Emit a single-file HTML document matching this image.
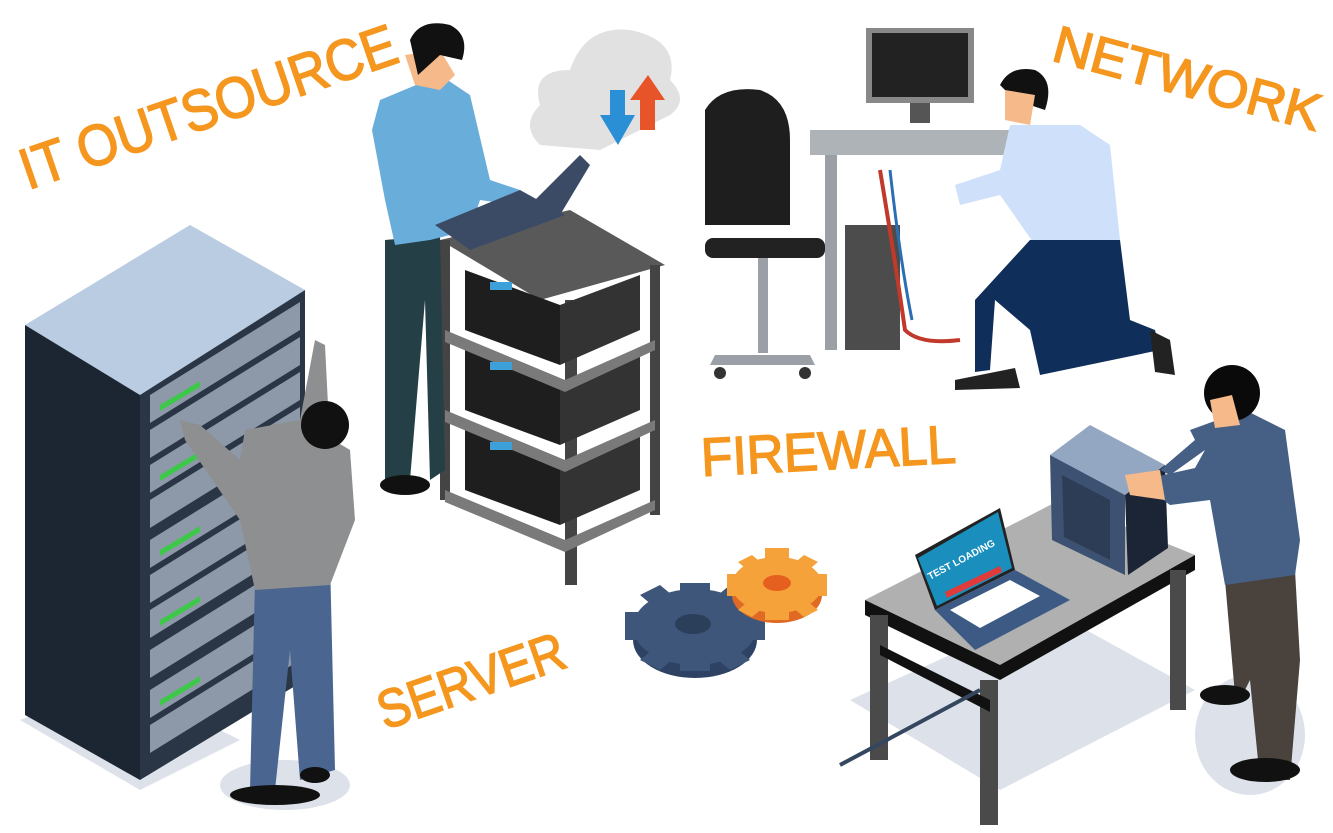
<!DOCTYPE html>
<html><head><meta charset="utf-8"><style>
html,body{margin:0;padding:0;background:#fff;}
svg{display:block}
.t{font-family:"Liberation Sans",sans-serif;fill:#f5961e;stroke:#f5961e;stroke-width:1.5}
</style></head><body>
<svg width="1333" height="833" viewBox="0 0 1333 833" xmlns="http://www.w3.org/2000/svg">
<!-- floor shadows -->
<polygon points="20,720 140,790 240,740 120,680" fill="#dde2ea"/>
<ellipse cx="285" cy="785" rx="65" ry="25" fill="#dde2ea"/>
<polygon points="850,700 1000,790 1195,690 1050,610" fill="#dde2ea"/>
<ellipse cx="1250" cy="735" rx="55" ry="60" fill="#dde2ea"/>

<!-- Texts -->
<g transform="translate(28,190) rotate(-19)"><text class="t" font-size="58" x="0" y="0" textLength="395" lengthAdjust="spacingAndGlyphs">IT OUTSOURCE</text></g>
<g transform="translate(1050,60) rotate(15)"><text class="t" font-size="52" x="0" y="0" textLength="275" lengthAdjust="spacingAndGlyphs">NETWORK</text></g>
<g transform="translate(702,476) rotate(-3)"><text class="t" font-size="54" x="0" y="0" textLength="255" lengthAdjust="spacingAndGlyphs">FIREWALL</text></g>
<g transform="translate(385,730) rotate(-19)"><text class="t" font-size="54" x="0" y="0" textLength="195" lengthAdjust="spacingAndGlyphs">SERVER</text></g>

<!-- Left server rack -->
<polygon points="25,325 190,225 305,290 140,395" fill="#b9cce2"/>
<polygon points="25,325 140,395 140,780 25,715" fill="#1c2633"/>
<polygon points="140,395 305,290 305,680 140,780" fill="#2a3646"/>
<g fill="#8d99a8">
<polygon points="150,395 300,302 300,330 150,423"/>
<polygon points="150,430 300,337 300,365 150,458"/>
<polygon points="150,465 300,372 300,400 150,493"/>
<polygon points="150,500 300,407 300,435 150,528"/>
<polygon points="150,540 300,447 300,475 150,568"/>
<polygon points="150,575 300,482 300,510 150,603"/>
<polygon points="150,610 300,517 300,545 150,638"/>
<polygon points="150,650 300,557 300,585 150,678"/>
<polygon points="150,690 300,597 300,625 150,718"/>
<polygon points="150,725 300,632 300,660 150,753"/>
</g>
<g fill="#3ec84a"><polygon points="160,405 200,381 200,387 160,411"/><polygon points="160,475 200,451 200,457 160,481"/><polygon points="160,550 200,526 200,532 160,556"/><polygon points="160,620 200,596 200,602 160,626"/><polygon points="160,700 200,676 200,682 160,706"/></g>

<!-- person at rack -->
<polygon points="255,580 330,560 335,770 300,780 290,650 275,790 250,790" fill="#4a6590"/>
<polygon points="245,430 300,420 350,450 355,520 330,585 255,590 240,520 185,440 180,420 200,425 240,460" fill="#8e8f90"/>
<polygon points="300,420 315,340 325,345 330,445" fill="#8e8f90"/>
<circle cx="325" cy="425" r="24" fill="#111"/>
<ellipse cx="275" cy="795" rx="45" ry="10" fill="#111"/>
<ellipse cx="315" cy="775" rx="15" ry="8" fill="#111"/>

<!-- central shelf -->
<polygon points="440,240 570,210 665,265 540,300" fill="#595959"/>
<rect x="440" y="240" width="10" height="260" fill="#444"/>
<rect x="565" y="300" width="12" height="285" fill="#444"/>
<rect x="650" y="265" width="10" height="250" fill="#444"/>
<g fill="#1e1e1e">
<polygon points="465,270 560,305 560,365 465,330"/><polygon points="560,305 640,275 640,330 560,365" fill="#333"/>
<polygon points="465,350 560,385 560,445 465,410"/><polygon points="560,385 640,355 640,410 560,445" fill="#333"/>
<polygon points="465,430 560,465 560,525 465,490"/><polygon points="560,465 640,435 640,490 560,525" fill="#333"/>
</g>
<polygon points="445,330 565,380 655,340 655,350 565,392 445,342" fill="#7a7a7a"/>
<polygon points="445,410 565,460 655,420 655,430 565,472 445,422" fill="#7a7a7a"/>
<polygon points="445,490 565,540 655,500 655,510 565,552 445,502" fill="#7a7a7a"/>
<rect x="490" y="282" width="22" height="8" fill="#3ea0d8"/><rect x="490" y="362" width="22" height="8" fill="#3ea0d8"/><rect x="490" y="442" width="22" height="8" fill="#3ea0d8"/>

<!-- standing man with laptop -->
<polygon points="385,240 440,235 445,470 430,480 425,300 410,480 385,480" fill="#243f45"/>
<ellipse cx="405" cy="485" rx="25" ry="10" fill="#111"/>
<polygon points="380,100 440,75 470,95 490,180 520,190 515,205 480,200 470,230 430,240 395,245 385,200 372,130" fill="#69addb"/>
<polygon points="405,55 440,50 455,75 440,90 415,85" fill="#f5b98a"/>
<path d="M410,40 Q420,18 450,25 Q470,35 462,60 L440,55 L418,75 Z" fill="#111"/>
<polygon points="435,225 520,190 565,215 470,250" fill="#3b4b66"/>
<polygon points="520,215 580,155 590,165 560,215" fill="#3b4b66"/>

<!-- cloud -->
<path d="M540,145 Q520,125 540,105 Q530,70 570,70 Q585,25 630,30 Q680,40 670,80 Q690,100 670,115 L600,150 Z" fill="#e1e1e1"/>
<polygon points="610,90 625,90 625,115 635,115 618,145 600,115 610,115" fill="#2b8fd6"/>
<polygon points="640,130 655,130 655,100 665,100 648,75 630,100 640,100" fill="#e8542a"/>

<!-- monitor desk -->
<rect x="866" y="28" width="108" height="75" fill="#888"/><rect x="872" y="33" width="96" height="64" fill="#222"/>
<rect x="910" y="103" width="20" height="20" fill="#555"/>
<polygon points="810,130 1010,130 1030,145 1030,155 810,155" fill="#aeb3b8"/>
<rect x="825" y="155" width="12" height="195" fill="#9aa0a6"/>
<rect x="845" y="225" width="55" height="125" fill="#4c4c4c"/>
<path d="M880,170 Q895,260 905,330 Q920,345 960,340" stroke="#c0392b" stroke-width="4" fill="none"/>
<path d="M890,170 Q900,260 912,320" stroke="#2b6fb3" stroke-width="3" fill="none"/>
<!-- chair -->
<path d="M705,110 Q720,85 760,90 Q790,100 790,140 L790,225 L705,225 Z" fill="#1e1e1e"/>
<rect x="705" y="238" width="120" height="20" rx="8" fill="#222"/>
<rect x="758" y="258" width="10" height="95" fill="#9aa0a6"/>
<polygon points="715,355 810,355 815,365 710,365" fill="#9aa0a6"/>
<circle cx="720" cy="373" r="6" fill="#333"/><circle cx="805" cy="373" r="6" fill="#333"/>

<!-- kneeling man -->
<polygon points="1010,125 1080,125 1110,145 1120,240 1035,245 1000,195 960,205 955,185 1000,170" fill="#cfe0fa"/>
<path d="M1000,85 Q1010,65 1035,70 Q1055,80 1045,110 L1015,100 Z" fill="#111"/>
<polygon points="1005,90 1035,95 1030,125 1005,120" fill="#f5b98a"/>
<polygon points="1030,240 1120,240 1130,320 1155,330 1160,350 1040,375 1030,330 995,300 990,370 975,372 975,300" fill="#0f2e5a"/>
<polygon points="955,380 1015,368 1020,388 955,390" fill="#222"/>
<polygon points="1150,330 1170,340 1175,375 1155,372" fill="#222"/>

<!-- gears (isometric) -->
<g fill="#2e4263"><ellipse cx="695" cy="640" rx="62" ry="38"/></g>
<g fill="#3e5679">
<ellipse cx="695" cy="627" rx="62" ry="38"/>
<rect x="680" y="583" width="30" height="88"/>
<rect x="625" y="612" width="140" height="28"/>
<polygon points="640,595 660,585 750,660 730,670"/>
<polygon points="730,585 750,595 660,670 640,660"/>
</g>
<ellipse cx="693" cy="624" rx="18" ry="10" fill="#2b3e5a"/>
<ellipse cx="777" cy="595" rx="45" ry="28" fill="#e06a24"/>
<g fill="#f5a23a">
<ellipse cx="777" cy="585" rx="45" ry="28"/>
<rect x="765" y="548" width="24" height="72"/>
<rect x="727" y="574" width="100" height="22"/>
<polygon points="738,562 752,555 818,610 804,617"/>
<polygon points="804,555 818,562 752,617 738,610"/>
</g>
<ellipse cx="777" cy="583" rx="14" ry="8" fill="#e55f1e"/>

<!-- right table -->
<polygon points="865,600 1060,500 1195,555 1000,665" fill="#b0b0b0"/>
<polygon points="865,600 1000,665 1000,680 865,615" fill="#111"/>
<polygon points="1000,665 1195,555 1195,570 1000,680" fill="#111"/>
<rect x="870" y="615" width="18" height="145" fill="#4a4a4a"/>
<rect x="980" y="680" width="18" height="145" fill="#4a4a4a"/>
<rect x="1170" y="570" width="16" height="140" fill="#4a4a4a"/>
<polygon points="880,645 990,700 990,712 880,655" fill="#111"/>
<line x1="840" y1="765" x2="980" y2="690" stroke="#34475f" stroke-width="4"/>
<!-- laptop -->
<polygon points="915,555 1000,508 1015,570 935,610" fill="#222"/><polygon points="918,558 998,512 1012,568 937,606" fill="#1a8fbd"/>
<g transform="translate(930,580) rotate(-28)"><text font-family="Liberation Sans,sans-serif" font-size="10" font-weight="bold" fill="#fff">TEST LOADING</text></g>
<polygon points="945,592 1000,566 1002,572 947,598" fill="#e03a3a"/>
<polygon points="935,610 1015,570 1070,600 975,650" fill="#3d5a85"/>
<polygon points="950,610 1010,580 1040,596 980,628" fill="#fff"/>
<!-- server box -->
<polygon points="1050,455 1090,425 1165,465 1125,495" fill="#94a7c2"/>
<polygon points="1050,455 1125,495 1125,575 1052,540" fill="#3d5273"/>
<polygon points="1062,475 1110,500 1110,560 1064,537" fill="#2d3d56"/>
<polygon points="1125,495 1165,465 1168,548 1128,575" fill="#1c2535"/>
<!-- standing right man -->
<polygon points="1225,580 1295,570 1300,660 1290,780 1260,780 1250,680 1240,700 1235,695" fill="#4a423d"/>
<polygon points="1190,430 1245,410 1285,430 1300,540 1295,575 1225,585 1210,500 1170,505 1150,490 1150,478 1195,468 1205,450 1170,475 1160,470 1195,440" fill="#465f85"/>
<polygon points="1125,475 1160,470 1165,500 1130,495" fill="#f5b98a"/>
<circle cx="1232" cy="393" r="28" fill="#0a0a0a"/>
<polygon points="1210,400 1232,395 1240,425 1215,428" fill="#f5b98a"/>
<ellipse cx="1225" cy="695" rx="25" ry="10" fill="#111"/>
<ellipse cx="1265" cy="770" rx="35" ry="12" fill="#111"/>
</svg>
</body></html>
